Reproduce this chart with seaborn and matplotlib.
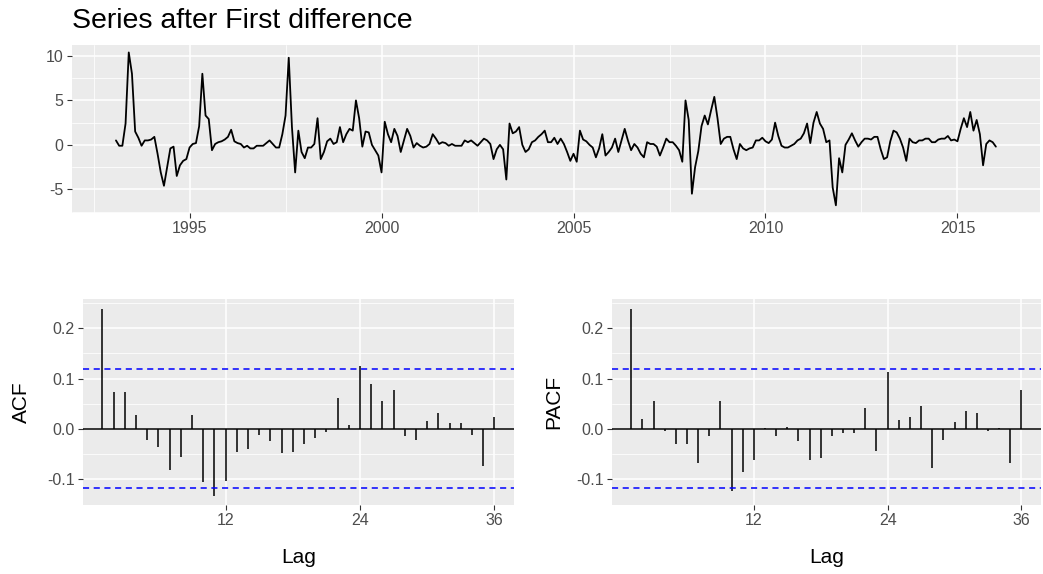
import numpy as np
import pandas as pd
import seaborn as sns
import matplotlib.pyplot as plt
from matplotlib.ticker import MultipleLocator, FixedLocator

# Differenced monthly series (starts Feb 1993)
start_year = 1993 + 1 / 12
diff_1993_1996 = [0.5, -0.1, -0.1, 2.4, 10.4, 8.0, 1.5, 0.8, -0.1, 0.5,
                  0.5, 0.6, 0.9, -1.0, -3.1, -4.6, -2.5, -0.4, -0.2, -3.5,
                  -2.3, -1.8, -1.6, -0.3, 0.1, 0.2, 2.1, 8.0, 3.3, 2.9,
                  -0.6, 0.1, 0.3, 0.4, 0.6, 0.9, 1.7, 0.4, 0.2, 0.1,
                  -0.3, -0.1, -0.4, -0.4, -0.1]
diff_1996_2000 = [-0.1, -0.1, 0.2, 0.5, 0.1, -0.3, -0.3, 1.2, 3.3, 9.8,
                  2.0, -3.1, 1.6, -0.8, -1.5, -0.3, -0.3, 0.1, 3.0, -1.6,
                  -0.8, 0.4, 0.7, 0.1, 0.3, 2.0, 0.3, 1.2, 1.8, 1.6,
                  5.0, 3.0, -0.2, 1.5, 1.4, 0.0, -0.6, -1.2, -3.1, 2.6,
                  1.2, 0.3, 1.8, 1.0, -0.8, 0.5, 1.8]
diff_2000_2004 = [1.0, -0.3, 0.2, -0.1, -0.3, -0.2, 0.1, 1.2, 0.7, 0.1,
                  0.3, 0.2, -0.1, 0.1, -0.1, -0.1, -0.1, 0.5, 0.3, 0.5,
                  0.2, -0.1, 0.3, 0.7, 0.5, 0.1, -1.6, -0.5, 0.0, -0.5,
                  -3.9, 2.4, 1.3, 1.5, 2.0, 0.0, -0.8, -0.5, 0.3, 0.5,
                  0.9, 1.2, 1.6, 0.3, 0.3, 0.8, 0.1]
diff_2004_2008 = [0.7, 0.1, -0.8, -1.8, -1.0, -1.9, 1.6, 0.6, 0.4, 0.0,
                  -0.3, -1.4, -0.4, 1.2, -1.2, -0.8, -0.3, 0.7, -0.8, 0.5,
                  1.8, 0.5, -0.6, 0.1, -0.3, -1.0, -1.4, 0.3, 0.1, 0.1,
                  -0.2, -1.2, -0.3, 0.7, 0.3, 0.3, -0.1, -0.6, -1.9, 5.0,
                  2.8, -5.5, -2.5, -0.7, 2.1, 3.3, 2.3]
diff_2008_2012 = [3.9, 5.4, 3.0, 0.1, 0.7, 0.9, 0.9, -0.5, -1.6, 0.1,
                  -0.4, -0.6, -0.4, -0.3, 0.5, 0.5, 0.8, 0.4, 0.2, 0.6,
                  2.5, 1.0, -0.1, -0.3, -0.3, -0.1, 0.1, 0.5, 0.7, 1.3,
                  2.4, 0.2, 2.5, 3.7, 2.4, 1.8, 0.3, 0.5, -4.8, -6.8,
                  -1.5, -3.1, 0.0, 0.6, 1.3, 0.5]
diff_2012_2016 = [-0.2, 0.3, 0.7, 0.7, 0.6, 0.9, 0.9, -0.5, -1.6, -1.4,
                  0.4, 1.6, 1.4, 0.7, -0.3, -1.8, 0.7, 0.3, 0.2, 0.5,
                  0.5, 0.7, 0.7, 0.3, 0.3, 0.6, 0.7, 0.7, 1.0, 0.5,
                  0.6, 0.4, 1.8, 3.0, 2.0, 3.7, 1.6, 2.8, 1.2, -2.3,
                  0.1, 0.5, 0.3, -0.2]

# ACF / PACF at lags 1..36
lags = list(range(1, 37))
acf_vals = [0.239, 0.074, 0.074, 0.027, -0.022, -0.037, -0.081, -0.057, 0.027, -0.106,
            -0.133, -0.104, -0.047, -0.040, -0.012, -0.025, -0.049, -0.047, -0.030, -0.018,
            -0.006, 0.062, 0.008, 0.125, 0.090, 0.055, 0.077, -0.014, -0.022, 0.015,
            0.032, 0.011, 0.011, -0.012, -0.075, 0.024]
pacf_vals = [0.239, 0.020, 0.055, -0.005, -0.030, -0.030, -0.069, -0.015, 0.055, -0.123,
             -0.085, -0.062, 0.001, -0.014, 0.004, -0.025, -0.062, -0.059, -0.014, -0.008,
             -0.008, 0.042, -0.044, 0.112, 0.017, 0.024, 0.046, -0.078, -0.022, 0.014,
             0.036, 0.032, -0.005, 0.001, -0.069, 0.077]
conf = 0.118

series = np.concatenate([diff_1993_1996, diff_1996_2000, diff_2000_2004,
                         diff_2004_2008, diff_2008_2012, diff_2012_2016])
ts = pd.DataFrame({"time": start_year + np.arange(len(series)) / 12, "value": series})

sns.set_theme(style="darkgrid", rc={
    "axes.facecolor": "#EBEBEB",
    "grid.color": "white",
    "text.color": "black",
    "axes.labelcolor": "black",
    "xtick.bottom": True, "ytick.left": True,
    "xtick.major.size": 3.5, "ytick.major.size": 3.5,
    "xtick.major.width": 0.8, "ytick.major.width": 0.8,
    "xtick.color": "#333333", "ytick.color": "#333333",
    "xtick.labelcolor": "#4D4D4D", "ytick.labelcolor": "#4D4D4D",
    "xtick.major.pad": 2.5, "ytick.major.pad": 2.5,
    "axes.unicode_minus": False,
})
plt.rcParams["font.family"] = ["Liberation Sans", "DejaVu Sans"]

fig = plt.figure(figsize=(10.43, 5.74), dpi=100)
ax_ts = fig.add_axes([0.069, 0.629, 0.928, 0.293])
ax_acf = fig.add_axes([0.0793, 0.1202, 0.4135, 0.3584])
ax_pacf = fig.add_axes([0.5865, 0.1202, 0.4115, 0.3584])

# top: the differenced series
sns.lineplot(data=ts, x="time", y="value", ax=ax_ts, color="black", linewidth=1.3)
ax_ts.set_xlim(ts["time"].min() - 0.05 * np.ptp(ts["time"]), ts["time"].max() + 0.05 * np.ptp(ts["time"]))
ax_ts.set_ylim(series.min() - 0.05 * np.ptp(series), series.max() + 0.05 * np.ptp(series))
ax_ts.xaxis.set_major_locator(MultipleLocator(5))
ax_ts.xaxis.set_minor_locator(FixedLocator(np.arange(1992.5, 2018, 5)))
ax_ts.yaxis.set_major_locator(MultipleLocator(5))
ax_ts.yaxis.set_minor_locator(FixedLocator([-7.5, -2.5, 2.5, 7.5]))
ax_ts.set_xlabel("")
ax_ts.set_ylabel("")
fig.text(0.069, 0.963, "Series after First difference", fontsize=20.5, va="center", ha="left",
         color="black")

# bottom: ACF and PACF
lo = min(min(acf_vals), min(pacf_vals), -conf)
hi = max(max(acf_vals), max(pacf_vals), conf)
for ax, vals, name in [(ax_acf, acf_vals, "ACF"), (ax_pacf, pacf_vals, "PACF")]:
    ax.vlines(lags, 0, vals, color="black", linewidth=1.1)
    ax.axhline(0, color="black", linewidth=1.1)
    ax.axhline(conf, color="blue", linestyle=(0, (4, 3)), linewidth=1.1)
    ax.axhline(-conf, color="blue", linestyle=(0, (4, 3)), linewidth=1.1)
    ax.set_xlim(1 - 0.05 * 35, 36 + 0.05 * 35)
    ax.set_ylim(lo - 0.05 * (hi - lo), hi + 0.05 * (hi - lo))
    ax.set_xticks([12, 24, 36])
    ax.set_yticks([-0.1, 0.0, 0.1, 0.2])
    ax.set_yticklabels(["-0.1", "0.0", "0.1", "0.2"])
    ax.yaxis.set_minor_locator(FixedLocator([-0.05, 0.05, 0.15, 0.25]))
    ax.set_xlabel("Lag", fontsize=15)
    ax.set_ylabel(name, fontsize=15)
    ax.xaxis.set_label_coords(0.5, -0.21)

ax_acf.yaxis.set_label_coords(-0.12, 0.5)
ax_pacf.yaxis.set_label_coords(-0.114, 0.5)

for ax in [ax_ts, ax_acf, ax_pacf]:
    ax.tick_params(labelsize=11.5)
    ax.grid(which="major", color="white", linewidth=1.1)
    ax.grid(which="minor", color="white", linewidth=0.55)
    ax.tick_params(which="minor", length=0)
    for s in ax.spines.values():
        s.set_visible(False)
ax_acf.grid(which="minor", axis="x", visible=False)
ax_pacf.grid(which="minor", axis="x", visible=False)

fig.savefig("out.png", dpi=100)
